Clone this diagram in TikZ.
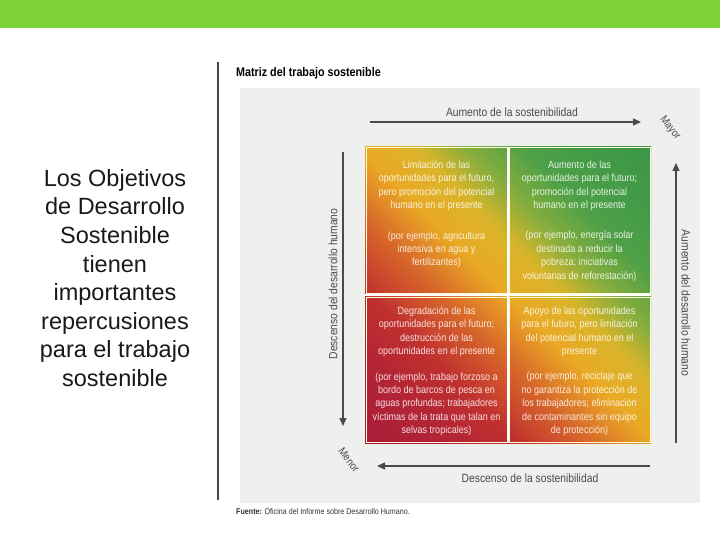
\documentclass[tikz,border=0pt]{standalone}
\usepackage{fontspec}
\setmainfont{Liberation Sans}
\newfontfamily\condfont[FakeStretch=0.86]{Liberation Sans}
\usepackage{xcolor}
\usetikzlibrary{arrows.meta,positioning,calc}

\definecolor{topbar}{HTML}{7ED23A}
\definecolor{panelgray}{HTML}{EEF0EE}
\definecolor{axisgray}{HTML}{4A4A4A}
\definecolor{mdarkred}{HTML}{A81C38}
\definecolor{mred}{HTML}{B32435}
\definecolor{mredorange}{HTML}{C0302F}
\definecolor{morange}{HTML}{D8682A}
\definecolor{myellow}{HTML}{EAAA24}
\definecolor{mgold}{HTML}{D8B42A}
\definecolor{mlime}{HTML}{8AAE3C}
\definecolor{mgreen}{HTML}{4DA047}
\definecolor{mdeepgreen}{HTML}{3A9647}

\pgfdeclarehorizontalshading{workmatrix}{100bp}{%
  color(0bp)=(mdarkred); color(14bp)=(mdarkred); color(25bp)=(mred);
  color(33bp)=(mredorange); color(42bp)=(morange); color(50bp)=(myellow);
  color(57bp)=(mgold); color(62.5bp)=(mlime); color(70bp)=(mgreen);
  color(85bp)=(mdeepgreen); color(100bp)=(mdeepgreen)}

\begin{document}
\begin{tikzpicture}[x=1pt,y=-1pt,
    quad/.style={draw=white!85!yellow,line width=1pt,
      minimum width=141pt,minimum height=145pt,inner sep=0pt},
    quadtext/.style={font=\condfont\fontsize{10.5}{13.4}\selectfont,
      align=center,text=white,text opacity=0.85,anchor=north,inner sep=0pt},
    axislabel/.style={font=\condfont\fontsize{12}{14}\selectfont,text=axisgray},
    axisarrow/.style={draw=axisgray,line width=1.3pt,
      -{Triangle[length=8pt,width=7pt]}},
    cornerlabel/.style={font=\condfont\fontsize{11}{12}\selectfont,
      text=axisgray,rotate=-52,inner sep=0pt}
  ]
    \useasboundingbox (0,0) rectangle (720,540);
    \fill[topbar] (0,0) rectangle (720,28);
    \draw[black!72,line width=2.5pt] (218,62) -- (218,500);

    \node[align=center,text=black!90,
      font=\fontsize{23.5}{28.6}\selectfont] (goal) at (115,278)
      {Los Objetivos\\de Desarrollo\\Sostenible\\tienen\\importantes\\
       repercusiones\\para el trabajo\\sostenible};

    \node[anchor=west,inner sep=0pt,
      font=\condfont\bfseries\fontsize{12.5}{14}\selectfont] (title) at (236,73)
      {Matriz del trabajo sostenible};
    \fill[panelgray] (240,88) rectangle (700,503);

    % colour field and the four quadrants
    \fill[shading=workmatrix,shading angle=45] (365,147) rectangle (651,443);
    \node[quad] (q11) at (436.5,220.5) {};
    \node[quad] (q12) at (579.5,220.5) {};
    \node[quad] (q21) at (436.5,369.5) {};
    \node[quad] (q22) at (579.5,369.5) {};
    \draw[white,line width=2.5pt] (508,147) -- (508,443);
    \draw[white,line width=2.5pt] (365,295) -- (651,295);

    \node[quadtext,below=13pt of q11.north] (t11)
      {Limitación de las\\oportunidades para el futuro,\\pero promoción del potencial\\
       humano en el presente\\[17pt]
       (por ejemplo, agricultura\\intensiva en agua y\\fertilizantes)};
    \node[quadtext,below=13pt of q12.north] (t12)
      {Aumento de las\\oportunidades para el futuro;\\promoción del potencial\\
       humano en el presente\\[17pt]
       (por ejemplo, energía solar\\destinada a reducir la\\pobreza; iniciativas\\
       voluntarias de reforestación)};
    \node[quadtext,below=10pt of q21.north] (t21)
      {Degradación de las\\oportunidades para el futuro;\\destrucción de las\\
       oportunidades en el presente\\[12pt]
       (por ejemplo, trabajo forzoso a\\bordo de barcos de pesca en\\
       aguas profundas; trabajadores\\víctimas de la trata que talan en\\
       selvas tropicales)};
    \node[quadtext,below=10pt of q22.north] (t22)
      {Apoyo de las oportunidades\\para el futuro, pero limitación\\
       del potencial humano en el\\presente\\[12pt]
       (por ejemplo, reciclaje que\\no garantiza la protección de\\
       los trabajadores; eliminación\\de contaminantes sin equipo\\
       de protección)};

    % axes
    \coordinate (topL) at (370,122);
    \coordinate (topR) at (641,122);
    \coordinate (leftT) at (343,152);
    \coordinate (leftB) at (343,426);
    \coordinate (rightB) at (676,443);
    \coordinate (rightT) at (676,163);
    \coordinate (botR) at (650,466);
    \coordinate (botL) at (377,466);
    \draw[axisarrow] (topL) -- (topR);
    \draw[axisarrow] (leftT) -- (leftB);
    \draw[axisarrow] (rightB) -- (rightT);
    \draw[axisarrow] (botR) -- (botL);
    \node[axislabel] (lsup) at (512,112) {Aumento de la sostenibilidad};
    \node[axislabel] (linf) at (530,478) {Descenso de la sostenibilidad};
    \node[axislabel,rotate=90] (lizq) at (333,284) {Descenso del desarrollo humano};
    \node[axislabel,rotate=-90] (lder) at (686,303) {Aumento del desarrollo humano};
    \node[cornerlabel] (mayor) at (670,128) {Mayor};
    \node[cornerlabel] (menor) at (349,460) {Menor};

    \node[anchor=west,inner sep=0pt,text=black!80,
      font=\condfont\fontsize{8.3}{9}\selectfont] (fuente) at (236,512)
      {\textbf{Fuente:} Oficina del Informe sobre Desarrollo Humano.};
  \end{tikzpicture}
\end{document}
